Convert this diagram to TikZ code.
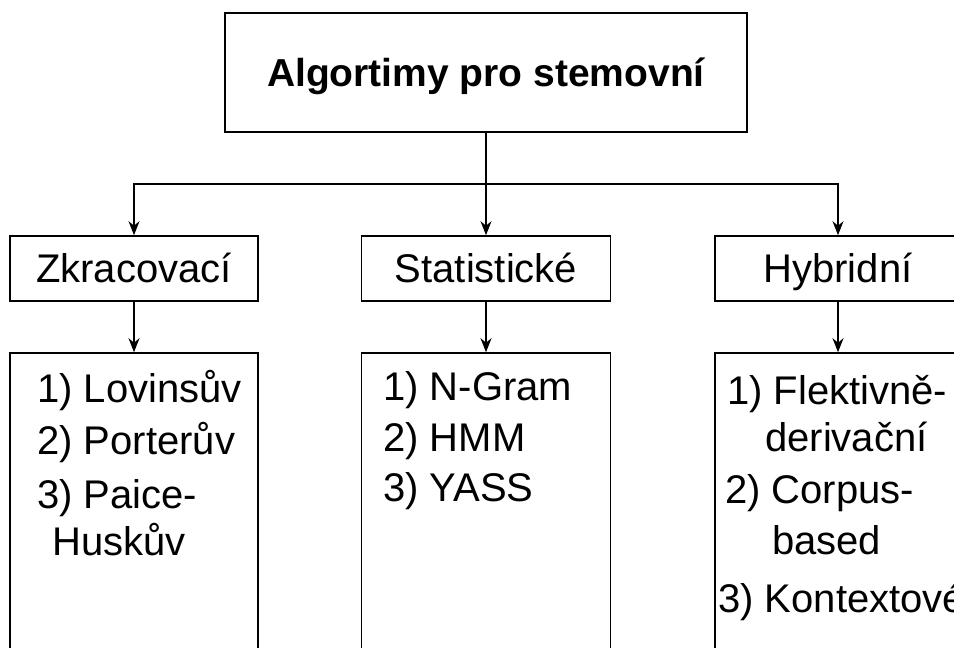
\documentclass[tikz,border=0pt]{standalone}
\usepackage{fontspec}
\setmainfont{Liberation Sans}
\usetikzlibrary{arrows.meta}
\begin{document}
\begin{tikzpicture}[x=1pt,y=-1pt,
  box/.style={draw=black,line width=1.6pt,rectangle,inner sep=0pt,
    text height=28.6pt,text depth=0pt,font=\fontsize{40}{46}\selectfont},
  item/.style={anchor=base west,inner sep=0pt,font=\fontsize{40}{46}\selectfont},
  conn/.style={draw=black,line width=1.6pt},
  arrow/.style={conn,-{Stealth[length=14pt,width=11pt]}}]
\useasboundingbox (0,0) rectangle (954,648);
\clip (0,0) rectangle (954,648);

% root and the three groups
\node[box,minimum width=522pt,minimum height=119pt,text height=27.9pt,
  font=\fontsize{39}{45}\selectfont\bfseries]
  (root) at (486,72.5) {Algortimy pro stemovní};
\node[box,minimum width=248pt,minimum height=65pt] (zkr) at (134,268.5) {Zkracovací};
\node[box,minimum width=249pt,minimum height=65pt] (stat) at (486,268.5) {Statistické};
\node[box,minimum width=246pt,minimum height=65pt] (hyb) at (838,268.5) {Hybridní};

% list boxes, running past the lower edge
\node[box,minimum width=248pt,minimum height=347pt] (zkrl) at (134,526.5) {};
\node[box,minimum width=249pt,minimum height=347pt] (statl) at (486,526.5) {};
\node[box,minimum width=246pt,minimum height=347pt] (hybl) at (838,526.5) {};

% connectors
\coordinate (bus) at (486,184);
\draw[conn] (root.south) -- (bus);
\draw[arrow] (bus) -| (zkr.north);
\draw[arrow] (bus) -- (stat.north);
\draw[arrow] (bus) -| (hyb.north);
\draw[arrow] (zkr.south) -- (zkrl.north);
\draw[arrow] (stat.south) -- (statl.north);
\draw[arrow] (hyb.south) -- (hybl.north);

% truncation stemmers
\node[item] (z1) at (37,402) {1) Lovinsův};
\node[item] (z2) at (37,454) {2) Porterův};
\node[item] (z3) at (37,508) {3) Paice-};
\node[item] (z4) at (52,555) {Huskův};

% statistical stemmers
\node[item] (s1) at (383,400) {1) N-Gram};
\node[item] (s2) at (383,451) {2) HMM};
\node[item] (s3) at (383,501) {3) YASS};

% hybrid stemmers
\node[item] (h1) at (727,404) {1) Flektivně-};
\node[item] (h2) at (765,451) {derivační};
\node[item] (h3) at (725,503) {2) Corpus-};
\node[item] (h4) at (772,554) {based};
\node[item] (h5) at (718,612) {3) Kontextové};
\end{tikzpicture}
\end{document}
